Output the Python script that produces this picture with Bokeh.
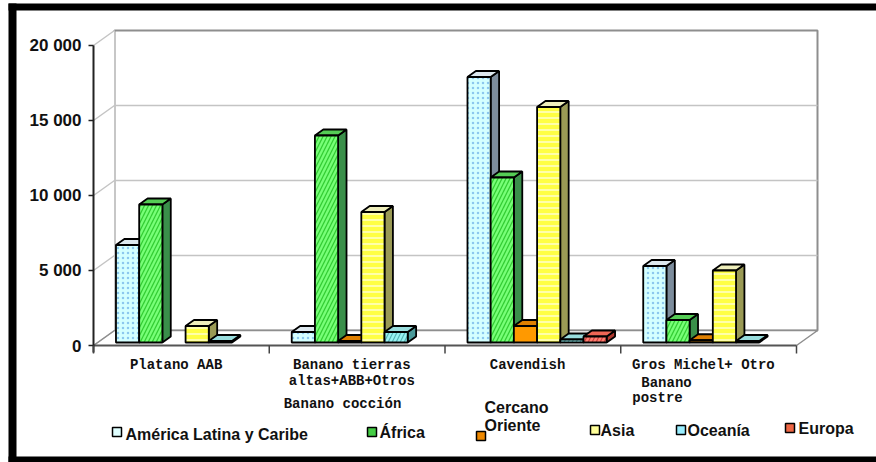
from bokeh.plotting import figure
from bokeh.models import Range1d
from bokeh.core.properties import value
from bokeh.embed import file_html
from bokeh.resources import INLINE

# ---- data -------------------------------------------------------------
categories = ["Platano AAB", "Banano tierras\naltas+ABB+Otros", "Cavendish", "Gros Michel+ Otro"]
series_names = ["América Latina y Caribe", "África", "Cercano\nOriente", "Asia", "Oceanía", "Europa"]
america_latina = [6500, 700, 17700, 5100]
africa = [9200, 13800, 11000, 1500]
cercano_oriente = [0, 100, 1100, 150]
asia = [1100, 8700, 15700, 4800]
oceania = [100, 700, 200, 100]
europa = [0, 0, 400, 0]
series_values = [america_latina, africa, cercano_oriente, asia, oceania, europa]
y_ticks = [0, 5000, 10000, 15000, 20000]
y_tick_labels = ["0", "5 000", "10 000", "15 000", "20 000"]

# ---- geometry (pixel layout converted to data space) --------------------
W, H = 876, 462
X0_PX, Y0_PX = 93, 345          # front origin of the value/category plane
CAT_PX = 175.75                 # pixels per category
VAL_PX = 300 / 20000            # pixels per unit
Y_MAX = 20000
N_CAT = len(categories)


def X(px):
    return (px - X0_PX) / CAT_PX


def Y(py):
    return (Y0_PX - py) / VAL_PX


DX, DY = 21 / CAT_PX, 15 / VAL_PX      # full depth of the 3-D box
F0, FD = 0.2, 0.4                      # bar front depth and bar thickness (fractions)
BW = 0.132                             # bar width in category units

p = figure(width=W, height=H, x_range=Range1d(X(0), X(W)), y_range=Range1d(Y(H), Y(0)),
           output_backend="svg", toolbar_location=None, min_border=0)
p.axis.visible = False
p.grid.visible = False
p.outline_line_color = None
p.background_fill_color = "white"
p.border_fill_color = "white"

WALL = "#8e8e8e"
GRID = "#c4c4c4"

# back wall, side wall and floor
p.quad(left=[DX], right=[N_CAT + DX], bottom=[DY], top=[Y_MAX + DY],
       fill_color="white", line_color=WALL, line_width=2)
p.patch([0, DX, DX, 0], [0, DY, Y_MAX + DY, Y_MAX], fill_color="white", line_color=None)
p.patch([0, N_CAT, N_CAT + DX, DX], [0, 0, DY, DY], fill_color="white", line_color=None)

inner = [t for t in y_ticks if 0 < t < Y_MAX]
p.segment(x0=[DX] * len(inner), y0=[t + DY for t in inner],
          x1=[N_CAT + DX] * len(inner), y1=[t + DY for t in inner],
          line_color=GRID, line_width=1.5)
p.segment(x0=[0] * len(y_ticks), y0=y_ticks, x1=[DX] * len(y_ticks),
          y1=[t + DY for t in y_ticks], line_color=GRID, line_width=1.5)
# floor outline
p.line([0, DX, N_CAT + DX, N_CAT], [0, DY, DY, 0], line_color=WALL, line_width=1.5)
p.line([0, N_CAT], [0, 0], line_color="#555555", line_width=2)

# front value axis with ticks and labels
p.segment(x0=[0], y0=[Y(352)], x1=[0], y1=[Y_MAX], line_color="#222222", line_width=2)
p.segment(x0=[X(88)] * len(y_ticks), y0=y_ticks, x1=[0] * len(y_ticks), y1=y_ticks,
          line_color="#222222", line_width=1.5)
p.text(x=[X(81)] * len(y_ticks), y=y_ticks, text=y_tick_labels,
       text_font=value("Liberation Sans"), text_font_style="bold", text_font_size="17px",
       text_align="right", text_baseline="middle", text_color="#111111")

# category axis ticks
cat_edges = list(range(N_CAT + 1))
p.segment(x0=cat_edges, y0=[0] * len(cat_edges), x1=cat_edges, y1=[Y(353)] * len(cat_edges),
          line_color="#444444", line_width=1.5)

# ---- bars ---------------------------------------------------------------
fills = ["#d4ffff", "#77ff77", "#ff9900", "#ffff44", "#99f2f2", "#ff8070"]
hatches = ["dot", "right_diagonal_line", "blank", "horizontal_line", "right_diagonal_line",
           "right_diagonal_line"]
hatch_colors = ["#8cc8ee", "#33cc33", "#ff9900", "#ffffcc", "#55b5b5", "#d04040"]
hatch_scales = [5, 8, 8, 6, 8, 8]
hatch_weights = [1.3, 1.3, 1.0, 1.5, 1.2, 1.2]
side_colors = ["#7c8c9c", "#3a8f4a", "#a05c00", "#9a9a55", "#4a9a9a", "#b03a30"]
top_colors = ["#dde8ee", "#55cc55", "#e08000", "#eeeebb", "#99dddd", "#ee6655"]
n_series = len(series_values)
bdx, bdy = FD * DX, FD * DY

bars = []   # (series, x0, x1, y0, y1)
for s, vals in enumerate(series_values):
    for c, v in enumerate(vals):
        if v <= 0:
            continue
        x0 = c + 0.5 - n_series / 2 * BW + s * BW + F0 * DX
        y0 = F0 * DY
        bars.append((s, x0, x0 + BW, y0, y0 + v))

OUT = 1.8
for s in range(n_series):
    mine = [b for b in bars if b[0] == s]
    if not mine:
        continue
    xs = [[b[2], b[2] + bdx, b[2] + bdx, b[2]] for b in mine]
    ys = [[b[3], b[3] + bdy, b[4] + bdy, b[4]] for b in mine]
    p.patches(xs, ys, fill_color=side_colors[s], line_color="black", line_width=OUT)
for s in range(n_series):
    mine = [b for b in bars if b[0] == s]
    if not mine:
        continue
    xs = [[b[1], b[2], b[2] + bdx, b[1] + bdx] for b in mine]
    ys = [[b[4], b[4], b[4] + bdy, b[4] + bdy] for b in mine]
    p.patches(xs, ys, fill_color=top_colors[s], line_color="black", line_width=OUT)
for s in range(n_series):
    mine = [b for b in bars if b[0] == s]
    if not mine:
        continue
    p.quad(left=[b[1] for b in mine], right=[b[2] for b in mine],
           bottom=[b[3] for b in mine], top=[b[4] for b in mine],
           fill_color=fills[s], hatch_pattern=hatches[s], hatch_color=hatch_colors[s],
           hatch_scale=hatch_scales[s], hatch_weight=hatch_weights[s],
           line_color="black", line_width=OUT)

# ---- category labels ----------------------------------------------------
cat_centers = [c + 0.5 - 0.03 for c in range(N_CAT)]
p.text(x=cat_centers, y=[Y(356)] * N_CAT, text=categories,
       text_font=value("Liberation Mono"), text_font_style="bold", text_font_size="14px",
       text_align="center", text_baseline="top", text_line_height=1.0, text_color="#111111")
p.text(x=[X(342), X(666), X(657)], y=[Y(403), Y(382), Y(397)],
       text=["Banano cocción", "Banano", "postre"],
       text_font=value("Liberation Mono"), text_font_style="bold", text_font_size="14px",
       text_align="center", text_baseline="middle", text_color="#111111")

# ---- legend -------------------------------------------------------------
legend_colors = ["#e0ffff", "#44cc44", "#ee8800", "#ffff99", "#99eeff", "#ee6644"]
sw_left = [112, 367, 476, 590, 676, 785]
sw_top = [427, 427, 431, 425, 425, 423]
lab_left = [125, 379, 484, 600, 687, 798]
lab_mid = [434, 432, 416, 430, 430, 428]
SW = 9
p.quad(left=[X(v) for v in sw_left], right=[X(v + SW) for v in sw_left],
       top=[Y(v) for v in sw_top], bottom=[Y(v + SW) for v in sw_top],
       fill_color=legend_colors, line_color="black", line_width=1.5)
p.text(x=[X(v) for v in lab_left], y=[Y(v) for v in lab_mid], text=series_names,
       text_font=value("Liberation Sans"), text_font_style="bold", text_font_size="16px",
       text_align="left", text_baseline="middle", text_line_height=1.05, text_color="#111111")

# ---- outer black frame --------------------------------------------------
p.quad(left=[X(8), X(8), X(8)], right=[X(16), X(W), X(W)],
       top=[Y(3), Y(3), Y(456)], bottom=[Y(H), Y(10), Y(H)],
       fill_color="black", line_color=None)

open("out.html", "w").write(file_html(p, INLINE))
